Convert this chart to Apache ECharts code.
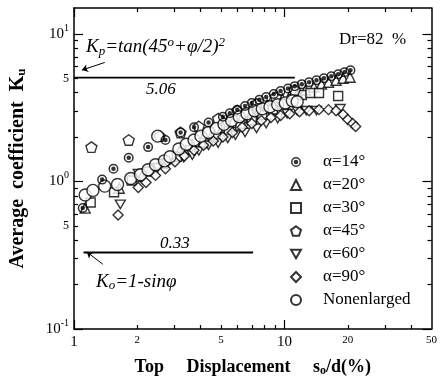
<!DOCTYPE html>
<html>
<head>
<meta charset="utf-8">
<script src="https://cdn.jsdelivr.net/npm/echarts@6/dist/echarts.min.js"></script>
<style>
  html, body { margin: 0; padding: 0; background: #fff; }
  #chart { width: 440px; height: 382px; }
</style>
</head>
<body>
<div id="chart"></div>
<script>
const lg = Math.log10;

// series values [top displacement s0/d (%), Ku]
const seriesNames = ['α=14°', 'α=20°', 'α=30°', 'α=45°', 'α=60°', 'α=90°', 'Nonenlarged'];
const a14 = [[1.10,0.66],[1.36,1.03],[1.54,1.22],[1.82,1.45],[2.25,1.71],[2.72,1.91],[3.21,2.15],
  [3.72,2.33],[4.36,2.51],[5.10,2.75],[5.5,2.9],[5.97,3.07],[6.5,3.25],[7.0,3.41],[7.6,3.58],[8.19,3.74],
  [8.9,3.92],[9.59,4.10],[10.4,4.27],[11.2,4.43],[12.1,4.57],[13.1,4.71],[14.2,4.86],[15.4,5.01],
  [16.7,5.17],[18.0,5.33],[19.3,5.50],[20.6,5.67]];
const a20 = [[1.13,0.66],[1.64,0.90],[1.98,1.08],[2.32,1.24],[2.72,1.42],[3.18,1.61],[3.65,1.79],
  [4.13,2.0],[4.59,2.15],[5.10,2.33],[5.66,2.51],[6.30,2.71],[7.0,2.93],[7.61,3.11],[8.28,3.31],
  [9.0,3.47],[9.78,3.63],[10.6,3.80],[11.6,3.98],[12.6,4.17],[13.8,4.37],[15.0,4.57],[16.2,4.71],
  [17.6,4.86],[19.0,5.01],[20.5,5.09]];
const a30 = [[1.20,0.72],[1.55,0.845],[1.88,1.015],[2.25,1.17],[2.66,1.32],[3.08,1.47],[3.57,1.63],
  [4.13,1.82],[4.74,2.0],[5.44,2.19],[6.17,2.40],[7.0,2.59],[7.85,2.80],[8.81,3.07],[9.9,3.36],
  [11.0,3.63],[12.1,3.86],[13.3,3.98],[14.6,3.98],[18.0,3.80]];
const a45 = [[1.21,1.71],[1.82,1.91],[2.55,2.03],[3.21,2.15],[3.92,2.36],[4.84,2.67],[5.97,3.02],
  [7.37,3.36],[9.10,3.74],[11.2,4.17]];
const a60 = [[1.66,0.70],[2.02,1.13],[2.50,1.24],[2.77,1.32],[3.32,1.45],[3.65,1.51],[3.92,1.61],
  [4.36,1.76],[4.84,1.82],[5.38,1.96],[5.85,2.06],[6.50,2.15],[7.37,2.29],[8.19,2.47],[9.29,2.67],
  [10.3,2.88],[11.5,3.02],[12.7,3.02],[14.2,3.02],[18.4,3.11]];
const a90 = [[1.62,0.593],[2.02,0.91],[2.20,0.985],[2.44,1.10],[2.72,1.22],[3.02,1.36],[3.35,1.49],
  [3.72,1.63],[4.13,1.76],[4.59,1.88],[5.10,2.0],[5.66,2.15],[6.30,2.33],[7.0,2.47],[7.77,2.59],
  [8.63,2.71],[9.59,2.80],[10.6,2.88],[11.8,2.97],[13.1,3.02],[14.6,3.07],[16.2,3.07],[17.6,3.02],
  [19.0,2.84],[20.0,2.63],[21.1,2.47],[21.8,2.36]];
const nonEnlarged = [[1.13,0.81],[1.23,0.87],[1.40,0.93],[1.61,0.955],[1.86,1.047],[2.07,1.11],
  [2.25,1.20],[2.44,1.30],[2.50,2.03],[2.69,1.38],[2.86,1.47],[3.15,1.66],[3.42,1.79],[3.72,1.91],
  [4.01,2.03],[4.36,2.15],[4.74,2.29],[5.16,2.44],[5.61,2.59],[6.10,2.75],[6.64,2.88],[7.21,3.02],
  [7.85,3.11],[8.54,3.21],[9.29,3.31],[10.1,3.41],[10.9,3.52],[11.5,3.47]];

// reference lines and arrows
const kpLine = [[1, 5.06], [11.2, 5.06]];
const k0Line = [[1.11, 0.33], [7.1, 0.33]];
const kpArrow = [[1.40, 6.41], [1.09, 5.69]];
const k0Arrow = [[1.37, 0.275], [1.15, 0.333]];

// ticks and labels
const xLabels = [1, 2, 5, 10, 20, 50];
const xMajorTicks = [1, 10];
const xMinorTicks = [2, 3, 4, 5, 6, 7, 8, 9, 20, 30, 40];
const yLabels = [0.1, 0.5, 1, 5, 10];
const yMajorTicks = [0.1, 1, 10];
const yMinorTicks = [0.2, 0.3, 0.4, 0.5, 0.6, 0.7, 0.8, 0.9, 2, 3, 4, 5, 6, 7, 8, 9];

const SERIF = '"Liberation Serif", "DejaVu Serif", serif';
const X_MIN = 0, X_MAX = lg(50), Y_MIN = -1, Y_MAX = lg(15);

const bullseye = 'path://M0,10 A10,10 0 1,1 20,10 A10,10 0 1,1 0,10 Z M3,10 A7,7 0 1,0 17,10 A7,7 0 1,0 3,10 Z M5.5,10 A4.5,4.5 0 1,1 14.5,10 A4.5,4.5 0 1,1 5.5,10 Z';
const pentagon = 'path://M10,0 L19.5,6.9 L15.9,18.1 L4.1,18.1 L0.5,6.9 Z';
const downTri = 'path://M0,0 L20,0 L10,17 Z';

const symbols = [bullseye, 'triangle', 'rect', pentagon, downTri, 'diamond', 'circle'];
const sizes = [10, 10, 9, 11, 10, 10, 12];
const allData = [a14, a20, a30, a45, a60, a90, nonEnlarged];

const toLog = arr => arr.map(p => [lg(p[0]), lg(p[1])]);

function fmtX(v) {
  const n = Math.round(Math.pow(10, v));
  return (n === 1 || n === 10) ? '{b|' + n + '}' : '{s|' + n + '}';
}
function fmtY(v) {
  const n = +Math.pow(10, v).toPrecision(3);
  if (n === 0.1) return '{b|10}{p|-1}';
  if (n === 1) return '{b|10}{p|0}';
  if (n === 10) return '{b|10}{p|1}';
  return '{s|5}';
}

const axisLine = { show: true, onZero: false, lineStyle: { color: '#000', width: 1.5 } };
const noLine = { show: false, onZero: false };

function xAxis(pos, ticks, len, main) {
  const ax = {
    type: 'value', position: pos, min: X_MIN, max: X_MAX,
    axisLine: main ? axisLine : noLine,
    axisTick: { show: true, inside: true, length: len, customValues: ticks.map(lg), lineStyle: { color: '#000', width: 1.2 } },
    axisLabel: { show: false },
    splitLine: { show: false }
  };
  if (main && pos === 'bottom') {
    ax.axisLabel = {
      show: true, customValues: xLabels.map(lg), formatter: fmtX, margin: 6,
      rich: {
        b: { fontFamily: SERIF, fontSize: 15, color: '#000' },
        s: { fontFamily: SERIF, fontSize: 11, color: '#000' }
      }
    };
    ax.name = 'Top     Displacement     s{sub|o}/d(%)';
    ax.nameLocation = 'middle';
    ax.nameGap = 28;
    ax.nameTextStyle = {
      fontFamily: SERIF, fontSize: 18, fontWeight: 'bold', color: '#000', lineHeight: 20,
      rich: { sub: { fontFamily: SERIF, fontSize: 12, fontWeight: 'bold', lineHeight: 10, verticalAlign: 'bottom' } }
    };
  }
  return ax;
}

function yAxis(pos, ticks, len, main) {
  const ax = {
    type: 'value', position: pos, min: Y_MIN, max: Y_MAX,
    axisLine: main ? axisLine : noLine,
    axisTick: { show: true, inside: true, length: len, customValues: ticks.map(lg), lineStyle: { color: '#000', width: 1.2 } },
    axisLabel: { show: false },
    splitLine: { show: false }
  };
  if (main && pos === 'left') {
    ax.axisLabel = {
      show: true, customValues: yLabels.map(lg), formatter: fmtY, margin: 5,
      rich: {
        b: { fontFamily: SERIF, fontSize: 15, color: '#000', lineHeight: 22 },
        p: { fontFamily: SERIF, fontSize: 10, color: '#000', lineHeight: 10, verticalAlign: 'top' },
        s: { fontFamily: SERIF, fontSize: 12, color: '#000' }
      }
    };
    ax.name = 'Average  coefficient  K{sub|u}';
    ax.nameLocation = 'middle';
    ax.nameGap = 46;
    ax.nameRotate = 90;
    ax.nameTextStyle = {
      fontFamily: SERIF, fontSize: 20, fontWeight: 'bold', color: '#000', lineHeight: 20,
      rich: { sub: { fontFamily: SERIF, fontSize: 13, fontWeight: 'bold', lineHeight: 10, verticalAlign: 'bottom' } }
    };
  }
  return ax;
}

const scatterSeries = seriesNames.map((name, i) => ({
  name: name,
  type: 'scatter',
  z: i === 0 ? 4 : 3,
  data: toLog(allData[i]),
  symbol: symbols[i],
  symbolSize: sizes[i],
  symbolKeepAspect: true,
  itemStyle: i === 0
    ? { color: '#000', borderWidth: 0 }
    : { color: '#fff', borderColor: '#000', borderWidth: 1.4 },
  emphasis: { disabled: true }
}));

const lineStyle = { color: '#000', width: 1.8 };
const refSeries = [
  { type: 'line', data: toLog(kpLine), symbol: 'none', lineStyle: lineStyle, silent: true },
  {
    type: 'line', data: toLog(k0Line), symbol: 'none', lineStyle: lineStyle, silent: true,
    markLine: {
      silent: true, symbol: ['none', 'arrow'], symbolSize: 6, label: { show: false },
      lineStyle: { color: '#000', width: 1, type: 'solid' },
      data: [
        [{ coord: toLog(kpArrow)[0] }, { coord: toLog(kpArrow)[1] }],
        [{ coord: toLog(k0Arrow)[0] }, { coord: toLog(k0Arrow)[1] }]
      ]
    }
  }
];

const italic = { fontFamily: SERIF, fontStyle: 'italic', fontSize: 19, color: '#000' };
const chart = echarts.init(document.getElementById('chart'));
chart.setOption({
  animation: false,
  backgroundColor: '#fff',
  grid: { left: 65, right: 3, top: 8, bottom: 48 },
  xAxis: [
    xAxis('bottom', xMinorTicks, 4, true),
    xAxis('bottom', xMajorTicks, 9, false),
    xAxis('top', xMinorTicks, 4, true),
    xAxis('top', xMajorTicks, 9, false)
  ],
  yAxis: [
    yAxis('left', yMinorTicks, 4, true),
    yAxis('left', yMajorTicks, 9, false),
    yAxis('right', yMinorTicks, 4, true),
    yAxis('right', yMajorTicks, 9, false)
  ],
  legend: {
    data: seriesNames, orient: 'vertical', left: 285, top: 147,
    itemWidth: 10, itemHeight: 10, itemGap: 3, selectedMode: false,
    textStyle: { fontFamily: SERIF, fontSize: 17, color: '#000', lineHeight: 20, padding: [0, 0, 0, 17] }
  },
  graphic: [
    { type: 'text', left: 86, top: 36, style: {
      text: '{i|K}{sb|p}{i|=tan(45}{sp|o}{i|+φ/2)}{sp|2}', rich: {
        i: Object.assign({ lineHeight: 22 }, italic),
        sb: { fontFamily: SERIF, fontStyle: 'italic', fontSize: 13, lineHeight: 10, verticalAlign: 'bottom' },
        sp: { fontFamily: SERIF, fontStyle: 'italic', fontSize: 13, lineHeight: 10, verticalAlign: 'top' }
      } } },
    { type: 'text', left: 146, top: 81, style: { text: '5.06', font: 'italic 17px ' + SERIF, fill: '#000' } },
    { type: 'text', left: 160, top: 235, style: { text: '0.33', font: 'italic 17px ' + SERIF, fill: '#000' } },
    { type: 'text', left: 96, top: 272, style: {
      text: '{i|K}{sb|o}{i|=1-sinφ}', rich: {
        i: Object.assign({ lineHeight: 22 }, italic),
        sb: { fontFamily: SERIF, fontStyle: 'italic', fontSize: 13, lineHeight: 10, verticalAlign: 'bottom' }
      } } },
    { type: 'text', left: 339, top: 31, style: { text: 'Dr=82  %', font: '17px ' + SERIF, fill: '#000' } }
  ],
  series: refSeries.concat(scatterSeries)
});
</script>
</body>
</html>
